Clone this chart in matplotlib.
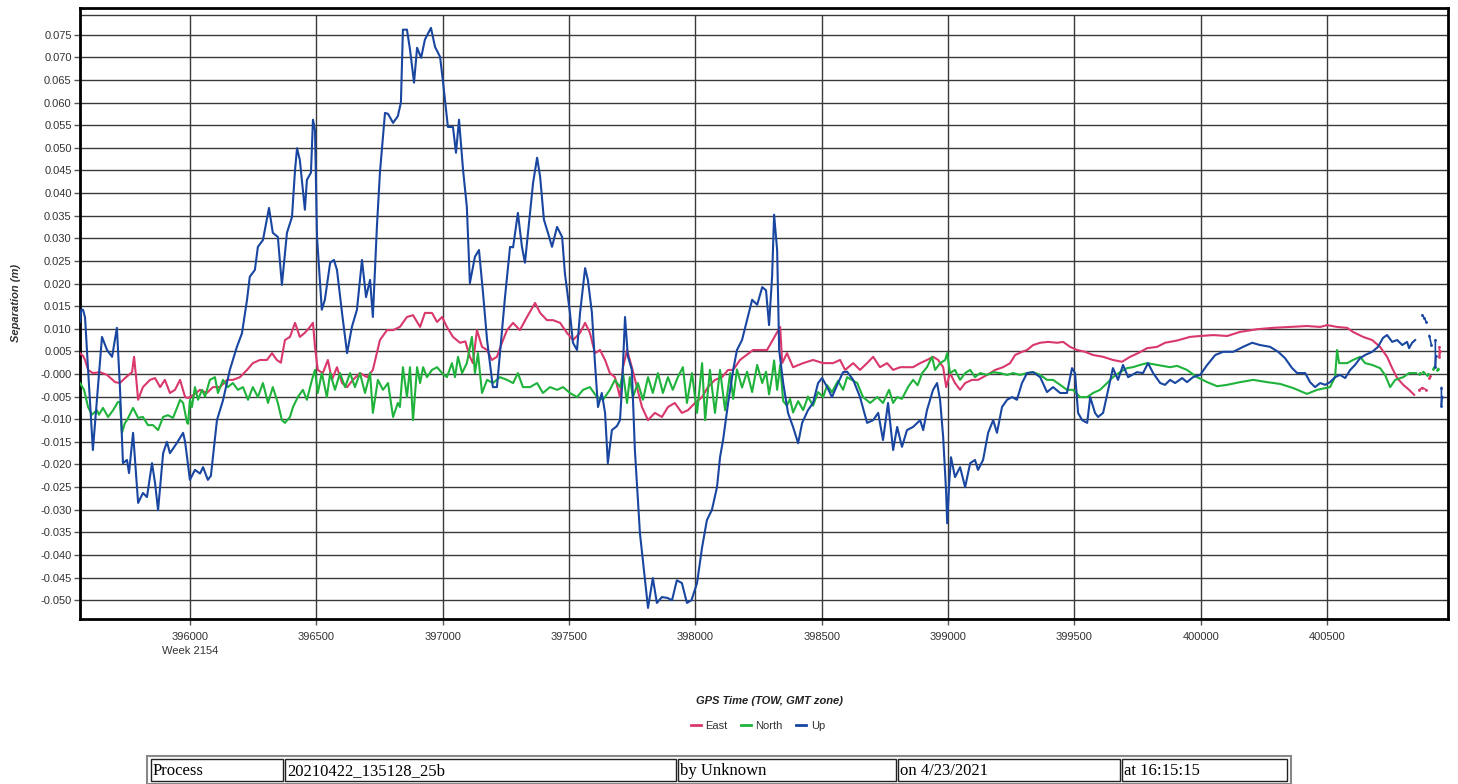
import numpy as np
import matplotlib
matplotlib.use("Agg")
import matplotlib.pyplot as plt
from matplotlib.lines import Line2D
from matplotlib.patches import Rectangle

plt.rcParams['font.family'] = ['Liberation Sans', 'DejaVu Sans']

# ---------------- data (GPS TOW seconds, separation in metres) ----------------
up_t = [395565, 395570, 395577, 395585, 395597, 395616, 395636, 395652, 395672, 395692,
        395711, 395723, 395735, 395751, 395759, 395775, 395795, 395814, 395830, 395850,
        395862, 395874, 395894, 395909, 395921, 395949, 395973, 395981, 396000, 396020,
        396040, 396052, 396071, 396083, 396107, 396131, 396158, 396186, 396206, 396226,
        396237, 396257, 396269, 396289, 396313, 396328, 396348, 396364, 396384, 396404,
        396416, 396424, 396435, 396455, 396463, 396479, 396487, 396495, 396503, 396522,
        396534, 396555, 396570, 396582, 396602, 396622, 396641, 396661, 396681, 396697,
        396713, 396724, 396740, 396752, 396772, 396784, 396804, 396823, 396835, 396843,
        396859, 396871, 396887, 396899, 396915, 396930, 396954, 396970, 396990, 397002,
        397021, 397041, 397053, 397065, 397081, 397096, 397108, 397128, 397144, 397160,
        397176, 397199, 397215, 397227, 397247, 397267, 397279, 397298, 397314, 397326,
        397346, 397358, 397374, 397386, 397401, 397417, 397433, 397453, 397473, 397484,
        397504, 397516, 397532, 397544, 397564, 397575, 397591, 397603, 397615, 397630,
        397643, 397654, 397670, 397690, 397702, 397710, 397722, 397733, 397749, 397761,
        397781, 397801, 397813, 397832, 397848, 397868, 397890, 397908, 397927, 397947,
        397967, 397985, 398007, 398027, 398046, 398066, 398086, 398098, 398110, 398130,
        398150, 398165, 398185, 398205, 398225, 398245, 398265, 398280, 398292, 398304,
        398312, 398324, 398332, 398348, 398367, 398387, 398407, 398423, 398446, 398466,
        398486, 398502, 398522, 398541, 398565, 398585, 398601, 398625, 398652, 398680,
        398704, 398724, 398743, 398763, 398783, 398799, 398818, 398838, 398862, 398890,
        398902, 398917, 398941, 398957, 398969, 398981, 398993, 398997, 399005, 399012,
        399028, 399048, 399068, 399088, 399107, 399119, 399139, 399159, 399179, 399194,
        399214, 399234, 399254, 399273, 399293, 399313, 399337, 399365, 399392, 399416,
        399444, 399471, 399491, 399503, 399515, 399531, 399551, 399563, 399582, 399594,
        399614, 399634, 399653, 399673, 399693, 399713, 399748, 399772, 399792, 399812,
        399840, 399859, 399879, 399899, 399927, 399946, 399970, 399998, 400026, 400058,
        400089, 400129, 400168, 400204, 400235, 400275, 400307, 400334, 400362, 400382,
        400414, 400433, 400453, 400473, 400493, 400512, 400532, 400552, 400572, 400592,
        400611, 400631, 400651, 400679, 400702, 400722, 400738, 400758, 400778, 400798,
        400817, 400825, 400837, 400849]
up_v = [0.0115, 0.0142, 0.0142, 0.0125, 0.0009, -0.0168, -0.0029, 0.0082, 0.0053, 0.0038,
        0.0102, -0.0029, -0.0197, -0.0190, -0.0219, -0.0130, -0.0285, -0.0263, -0.0272, -0.0197,
        -0.0241, -0.0301, -0.0175, -0.0150, -0.0175, -0.0152, -0.0130, -0.0150, -0.0234, -0.0212,
        -0.0220, -0.0206, -0.0234, -0.0225, -0.0102, -0.0058, 0.0009, 0.0060, 0.0090, 0.0164,
        0.0215, 0.0230, 0.0281, 0.0296, 0.0367, 0.0312, 0.0303, 0.0197, 0.0312, 0.0347,
        0.0451, 0.0499, 0.0473, 0.0363, 0.0429, 0.0445, 0.0562, 0.0539, 0.0303, 0.0142,
        0.0164, 0.0246, 0.0252, 0.0230, 0.0135, 0.0046, 0.0104, 0.0142, 0.0252, 0.0170,
        0.0208, 0.0126, 0.0325, 0.0445, 0.0577, 0.0575, 0.0555, 0.0570, 0.0600, 0.0761,
        0.0761, 0.0717, 0.0644, 0.0721, 0.0699, 0.0739, 0.0765, 0.0723, 0.0701, 0.0644,
        0.0546, 0.0546, 0.0489, 0.0562, 0.0451, 0.0369, 0.0201, 0.0259, 0.0274, 0.0179,
        0.0075, -0.0029, -0.0029, 0.0046, 0.0170, 0.0281, 0.0280, 0.0356, 0.0281, 0.0246,
        0.0356, 0.0422, 0.0478, 0.0436, 0.0341, 0.0312, 0.0281, 0.0325, 0.0303, 0.0223,
        0.0135, 0.0069, 0.0053, 0.0135, 0.0234, 0.0208, 0.0135, 0.0024, -0.0073, -0.0042,
        -0.0086, -0.0197, -0.0124, -0.0115, -0.0102, -0.0030, 0.0126, 0.0040, 0.0009, -0.0168,
        -0.0352, -0.0456, -0.0517, -0.0451, -0.0506, -0.0493, -0.0495, -0.0500, -0.0456, -0.0462,
        -0.0506, -0.0500, -0.0462, -0.0383, -0.0323, -0.0300, -0.0250, -0.0184, -0.0146, -0.0064,
        0.0009, 0.0053, 0.0075, 0.0120, 0.0164, 0.0153, 0.0192, 0.0185, 0.0108, 0.0215,
        0.0352, 0.0274, 0.0053, -0.0020, -0.0086, -0.0117, -0.0153, -0.0108, -0.0080, -0.0064,
        -0.0020, -0.0009, -0.0029, -0.0051, -0.0020, 0.0004, 0.0005, -0.0013, -0.0051, -0.0108,
        -0.0102, -0.0086, -0.0146, -0.0064, -0.0168, -0.0117, -0.0161, -0.0124, -0.0117, -0.0102,
        -0.0124, -0.0080, -0.0035, -0.0020, -0.0058, -0.0139, -0.0263, -0.0330, -0.0241, -0.0184,
        -0.0228, -0.0206, -0.0250, -0.0197, -0.0190, -0.0212, -0.0190, -0.0130, -0.0102, -0.0130,
        -0.0073, -0.0057, -0.0051, -0.0057, -0.0020, 0.0002, 0.0004, -0.0007, -0.0040, -0.0029,
        -0.0042, -0.0042, 0.0013, 0.0002, -0.0086, -0.0102, -0.0108, -0.0051, -0.0086, -0.0095,
        -0.0086, -0.0035, 0.0013, -0.0013, 0.0020, -0.0007, 0.0004, 0.0002, 0.0024, 0.0002,
        -0.0020, -0.0024, -0.0013, -0.0020, -0.0009, -0.0018, -0.0007, -0.0002, 0.0020, 0.0042,
        0.0049, 0.0049, 0.0060, 0.0069, 0.0064, 0.0060, 0.0049, 0.0035, 0.0013, 0.0002,
        0.0002, -0.0018, -0.0029, -0.0020, -0.0024, -0.0018, -0.0007, -0.0002, -0.0009, 0.0009,
        0.0020, 0.0035, 0.0042, 0.0049, 0.0060, 0.0080, 0.0086, 0.0071, 0.0075, 0.0064,
        0.0071, 0.0057, 0.0069, 0.0075]
up_tail_t = [400877, 400885, 400893, np.nan, 400905, 400913, np.nan, 400929, 400929, 400931, np.nan, 400953, 400953, 400955]
up_tail_v = [0.0130, 0.0124, 0.0115, np.nan, 0.0085, 0.0065, np.nan, 0.0075, 0.0015, 0.0040, np.nan, -0.0030, -0.0070, -0.0050]

east_t = [395565, 395577, 395585, 395597, 395616, 395644, 395672, 395704, 395723, 395743,
          395771, 395779, 395787, 395795, 395814, 395842, 395862, 395882, 395901, 395921,
          395941, 395961, 395981, 395993, 396012, 396040, 396067, 396091, 396119, 396147,
          396170, 396198, 396226, 396249, 396277, 396305, 396325, 396344, 396360, 396376,
          396396, 396416, 396435, 396455, 396475, 396487, 396495, 396506, 396526, 396546,
          396562, 396582, 396602, 396622, 396645, 396673, 396701, 396724, 396752, 396780,
          396804, 396831, 396859, 396883, 396911, 396930, 396958, 396978, 396998, 397017,
          397041, 397069, 397090, 397108, 397120, 397136, 397156, 397176, 397195, 397215,
          397235, 397255, 397279, 397306, 397334, 397366, 397386, 397413, 397437, 397465,
          397492, 397516, 397544, 397564, 397583, 397603, 397623, 397643, 397662, 397682,
          397702, 397714, 397730, 397749, 397769, 397789, 397813, 397840, 397868, 397892,
          397919, 397947, 397971, 397999, 398027, 398050, 398078, 398106, 398130, 398150,
          398177, 398229, 398284, 398336, 398344, 398363, 398387, 398427, 398466, 398506,
          398545, 398573, 398593, 398625, 398652, 398680, 398704, 398731, 398759, 398783,
          398811, 398838, 398862, 398890, 398917, 398941, 398961, 398981, 398993, 399008,
          399028, 399048, 399068, 399095, 399119, 399155, 399187, 399218, 399246, 399266,
          399293, 399313, 399337, 399365, 399396, 399432, 399456, 399483, 399511, 399543,
          399574, 399614, 399653, 399689, 399721, 399752, 399788, 399828, 399859, 399879,
          399907, 399958, 399998, 400050, 400105, 400156, 400224, 400287, 400354, 400421,
          400473, 400501, 400540, 400580, 400603, 400643, 400679, 400710, 400738, 400758,
          400778, 400802, 400825, 400845]
east_v = [0.0046, 0.0040, 0.0031, 0.0009, 0.0002, 0.0004, -0.0002, -0.0018, -0.0020, -0.0009,
          0.0004, 0.0038, -0.0007, -0.0057, -0.0029, -0.0013, -0.0009, -0.0029, -0.0013, -0.0042,
          -0.0035, -0.0013, -0.0051, -0.0053, -0.0047, -0.0035, -0.0042, -0.0029, -0.0029, -0.0013,
          -0.0013, -0.0007, 0.0009, 0.0024, 0.0031, 0.0031, 0.0046, 0.0031, 0.0025, 0.0075,
          0.0082, 0.0113, 0.0082, 0.0091, 0.0104, 0.0113, 0.0060, 0.0009, 0.0002, 0.0031,
          -0.0013, 0.0015, -0.0020, -0.0029, -0.0013, 0.0002, -0.0007, 0.0009, 0.0075, 0.0097,
          0.0097, 0.0104, 0.0126, 0.0130, 0.0104, 0.0135, 0.0135, 0.0115, 0.0126, 0.0104,
          0.0082, 0.0069, 0.0072, 0.0038, 0.0024, 0.0097, 0.0060, 0.0053, 0.0031, 0.0038,
          0.0069, 0.0097, 0.0113, 0.0097, 0.0126, 0.0157, 0.0135, 0.0119, 0.0119, 0.0113,
          0.0091, 0.0075, 0.0091, 0.0113, 0.0091, 0.0046, 0.0053, 0.0031, 0.0002, -0.0007,
          -0.0051, 0.0015, 0.0053, 0.0015, -0.0029, -0.0073, -0.0102, -0.0086, -0.0095, -0.0073,
          -0.0064, -0.0086, -0.0080, -0.0064, -0.0051, -0.0029, -0.0013, -0.0007, 0.0009, 0.0009,
          0.0031, 0.0053, 0.0053, 0.0104, 0.0024, 0.0046, 0.0015, 0.0024, 0.0031, 0.0024,
          0.0024, 0.0031, 0.0009, 0.0024, 0.0009, 0.0024, 0.0038, 0.0015, 0.0024, 0.0009,
          0.0015, 0.0015, 0.0015, 0.0024, 0.0031, 0.0038, 0.0031, 0.0015, -0.0029, 0.0002,
          -0.0020, -0.0035, -0.0020, -0.0013, -0.0013, -0.0002, 0.0009, 0.0015, 0.0024, 0.0042,
          0.0049, 0.0053, 0.0064, 0.0069, 0.0071, 0.0069, 0.0071, 0.0060, 0.0053, 0.0049,
          0.0042, 0.0038, 0.0031, 0.0027, 0.0038, 0.0046, 0.0057, 0.0060, 0.0069, 0.0071,
          0.0074, 0.0082, 0.0084, 0.0086, 0.0084, 0.0093, 0.0099, 0.0102, 0.0104, 0.0106,
          0.0104, 0.0108, 0.0104, 0.0102, 0.0093, 0.0082, 0.0075, 0.0060, 0.0038, 0.0013,
          -0.0009, -0.0024, -0.0035, -0.0046]
east_tail_t = [400865, 400877, 400893, np.nan, 400905, 400909, np.nan, 400945, 400945, 400947]
east_tail_v = [-0.0035, -0.0030, -0.0035, np.nan, -0.0009, -0.0005, np.nan, 0.0060, 0.0038, 0.0050]

north_t = [395565, 395581, 395597, 395612, 395632, 395640, 395656, 395676, 395696, 395715,
           395723, 395731, 395743, 395751, 395775, 395795, 395814, 395834, 395854, 395874,
           395894, 395913, 395933, 395953, 395961, 395973, 395989, 395993, 396000, 396008,
           396020, 396032, 396048, 396060, 396079, 396099, 396111, 396131, 396150, 396170,
           396190, 396210, 396230, 396249, 396269, 396289, 396309, 396328, 396348, 396364,
           396376, 396396, 396408, 396427, 396447, 396463, 396483, 396495, 396506, 396522,
           396542, 396555, 396574, 396594, 396614, 396634, 396653, 396673, 396693, 396713,
           396724, 396744, 396764, 396784, 396804, 396823, 396831, 396843, 396859, 396871,
           396883, 396899, 396911, 396923, 396938, 396958, 396978, 396998, 397017, 397037,
           397049, 397061, 397077, 397096, 397116, 397128, 397140, 397156, 397176, 397199,
           397227, 397255, 397279, 397298, 397318, 397346, 397374, 397397, 397425, 397453,
           397477, 397504, 397532, 397556, 397583, 397611, 397635, 397662, 397682, 397702,
           397714, 397730, 397741, 397753, 397773, 397793, 397813, 397832, 397852, 397872,
           397892, 397911, 397931, 397951, 397967, 397987, 398007, 398027, 398039, 398058,
           398078, 398098, 398118, 398138, 398150, 398165, 398185, 398205, 398225, 398245,
           398265, 398280, 398292, 398304, 398312, 398324, 398336, 398348, 398363, 398375,
           398387, 398407, 398427, 398446, 398466, 398486, 398506, 398522, 398541, 398565,
           398585, 398601, 398625, 398641, 398664, 398692, 398720, 398743, 398767, 398783,
           398799, 398818, 398842, 398862, 398880, 398898, 398917, 398937, 398949, 398969,
           398989, 398997, 399008, 399028, 399048, 399068, 399088, 399107, 399127, 399155,
           399179, 399206, 399234, 399258, 399285, 399313, 399337, 399365, 399392, 399416,
           399444, 399471, 399495, 399523, 399551, 399574, 399602, 399630, 399653, 399681,
           399709, 399732, 399760, 399788, 399828, 399879, 399907, 399946, 399986, 400026,
           400065, 400105, 400156, 400208, 400263, 400315, 400366, 400421, 400461, 400512,
           400532, 400540, 400548, 400580, 400603, 400631, 400651, 400679, 400710, 400730,
           400750, 400770, 400802, 400825, 400853]
north_v = [-0.0020, -0.0035, -0.0073, -0.0090, -0.0080, -0.0090, -0.0075, -0.0095, -0.0080, -0.0062,
           -0.0062, -0.0130, -0.0108, -0.0102, -0.0075, -0.0097, -0.0095, -0.0113, -0.0113, -0.0124,
           -0.0095, -0.0091, -0.0097, -0.0069, -0.0057, -0.0064, -0.0108, -0.0110, -0.0057, -0.0073,
           -0.0029, -0.0057, -0.0035, -0.0050, -0.0013, -0.0007, -0.0042, -0.0013, -0.0029, -0.0020,
           -0.0035, -0.0029, -0.0057, -0.0029, -0.0051, -0.0020, -0.0064, -0.0029, -0.0064, -0.0102,
           -0.0108, -0.0095, -0.0073, -0.0051, -0.0035, -0.0057, -0.0013, 0.0009, -0.0042, 0.0002,
           -0.0051, 0.0002, -0.0035, 0.0002, -0.0029, 0.0002, -0.0029, 0.0002, -0.0042, 0.0002,
           -0.0086, -0.0013, -0.0035, -0.0020, -0.0095, -0.0064, -0.0073, 0.0015, -0.0051, 0.0015,
           -0.0102, 0.0015, -0.0020, 0.0015, -0.0007, 0.0009, 0.0015, 0.0002, -0.0007, 0.0024,
           -0.0007, 0.0038, 0.0002, 0.0024, 0.0082, 0.0002, 0.0046, -0.0042, -0.0013, -0.0020,
           -0.0007, -0.0013, -0.0020, 0.0002, -0.0029, -0.0029, -0.0020, -0.0042, -0.0029, -0.0035,
           -0.0029, -0.0042, -0.0051, -0.0035, -0.0029, -0.0051, -0.0057, -0.0035, -0.0013, -0.0029,
           0.0002, -0.0064, -0.0007, -0.0051, -0.0020, -0.0057, -0.0007, -0.0042, 0.0002, -0.0042,
           -0.0007, -0.0035, -0.0007, 0.0015, -0.0064, 0.0002, -0.0086, 0.0024, -0.0102, 0.0009,
           -0.0086, 0.0009, -0.0080, 0.0002, -0.0055, 0.0010, -0.0030, 0.0005, -0.0040, 0.0020,
           -0.0020, 0.0005, -0.0045, -0.0005, 0.0030, -0.0035, 0.0020, -0.0060, -0.0070, -0.0055,
           -0.0085, -0.0060, -0.0080, -0.0050, -0.0070, -0.0040, -0.0051, -0.0025, -0.0040, -0.0015,
           -0.0035, -0.0007, -0.0015, -0.0020, -0.0051, -0.0064, -0.0051, -0.0064, -0.0035, -0.0064,
           -0.0051, -0.0055, -0.0029, -0.0013, -0.0025, 0.0002, 0.0015, 0.0038, 0.0009, 0.0024,
           0.0031, 0.0046, 0.0002, 0.0009, -0.0013, 0.0002, 0.0009, -0.0007, 0.0002, -0.0002,
           0.0004, 0.0002, -0.0002, 0.0002, -0.0002, 0.0002, 0.0004, -0.0002, -0.0013, -0.0013,
           -0.0024, -0.0035, -0.0035, -0.0051, -0.0051, -0.0042, -0.0035, -0.0020, -0.0007, 0.0004,
           0.0013, 0.0015, 0.0020, 0.0024, 0.0020, 0.0015, 0.0018, 0.0009, -0.0007, -0.0018,
           -0.0027, -0.0024, -0.0018, -0.0013, -0.0018, -0.0022, -0.0031, -0.0044, -0.0035, -0.0029,
           -0.0007, 0.0053, 0.0024, 0.0024, 0.0031, 0.0038, 0.0024, 0.0020, 0.0013, -0.0002,
           -0.0029, -0.0013, -0.0007, 0.0002, 0.0002]
north_tail_t = [400865, 400869, np.nan, 400881, 400885, np.nan, 400897, 400901, np.nan, 400921, 400925, np.nan, 400937, 400941]
north_tail_v = [0.0000, 0.0002, np.nan, 0.0005, 0.0003, np.nan, -0.0002, 0.0000, np.nan, 0.0012, 0.0015, np.nan, 0.0008, 0.0012]

y_ticks = [-0.050, -0.045, -0.040, -0.035, -0.030, -0.025, -0.020, -0.015, -0.010, -0.005,
           0.000, 0.005, 0.010, 0.015, 0.020, 0.025, 0.030, 0.035, 0.040, 0.045,
           0.050, 0.055, 0.060, 0.065, 0.070, 0.075]
y_tick_labels = ["-0.050", "-0.045", "-0.040", "-0.035", "-0.030", "-0.025", "-0.020", "-0.015",
                 "-0.010", "-0.005", "-0.000", "0.005", "0.010", "0.015", "0.020", "0.025",
                 "0.030", "0.035", "0.040", "0.045", "0.050", "0.055", "0.060", "0.065",
                 "0.070", "0.075"]
x_ticks = [396000, 396500, 397000, 397500, 398000, 398500, 399000, 399500, 400000, 400500]
x_tick_labels = ["396000\nWeek 2154", "396500", "397000", "397500", "398000", "398500",
                 "399000", "399500", "400000", "400500"]

table_cells = ["Process", "20210422_135128_25b", "by Unknown", "on 4/23/2021", "at 16:15:15"]

# ---------------- figure ----------------
W, H = 1458, 784
fig = plt.figure(figsize=(W / 100, H / 100), dpi=100)
fig.patch.set_facecolor('white')

ax = fig.add_axes([80 / W, 1 - 619 / H, (1448 - 80) / W, (619 - 8) / H])
x_lo, x_hi = 395565, 400979
y_lo, y_hi = -0.05415, 0.08089
y_band = 0.07934
ax.set_xlim(x_lo, x_hi)
ax.set_ylim(y_lo, y_hi)

# grid
for yt in y_ticks:
    ax.axhline(yt, color='#3a3a3a', lw=1.0, zorder=1)
ax.axhline(y_band, color='#3a3a3a', lw=1.0, zorder=1)
ax.vlines(x_ticks, y_lo, y_band, color='#3a3a3a', lw=1.0, zorder=1)

c_east = '#D8386A'
c_north = '#1FB33C'
c_up = '#1846A0'
lw = 1.5
ax.plot(east_t, east_v, color=c_east, lw=lw, zorder=3)
ax.plot(north_t, north_v, color=c_north, lw=lw, zorder=4)
ax.plot(up_t, up_v, color=c_up, lw=lw, zorder=5)
ax.plot(east_tail_t, east_tail_v, color=c_east, lw=1.2, marker='.', ms=2, zorder=3)
ax.plot(north_tail_t, north_tail_v, color=c_north, lw=1.2, marker='.', ms=2, zorder=4)
ax.plot(up_tail_t, up_tail_v, color=c_up, lw=1.2, marker='.', ms=2, zorder=5)

for s in ax.spines.values():
    s.set_color('black')
    s.set_linewidth(2.0)

ax.set_yticks(y_ticks)
ax.set_yticklabels(y_tick_labels)
ax.set_xticks(x_ticks)
ax.set_xticklabels(x_tick_labels, linespacing=1.6)
ax.tick_params(axis='both', direction='out', length=4, width=1, color='#555555',
               labelsize=8, labelcolor='#333333', pad=2)
ax.tick_params(axis='x', pad=5)

fig.text(16 / W, 1 - 303 / H, 'Separation (m)', rotation=90, fontsize=8,
         fontweight='bold', fontstyle='italic', color='#333333', ha='center', va='center')
fig.text(769 / W, 1 - 701 / H, 'GPS Time (TOW, GMT zone)', fontsize=8,
         fontweight='bold', fontstyle='italic', color='#222222', ha='center', va='center')

handles = [Line2D([], [], color=c_east, lw=2), Line2D([], [], color=c_north, lw=2),
           Line2D([], [], color=c_up, lw=2)]
fig.legend(handles, ['East', 'North', 'Up'], loc='center', bbox_to_anchor=(758 / W, 1 - 726 / H),
           ncol=3, frameon=False, fontsize=8, handlelength=0.9, handletextpad=0.4,
           columnspacing=1.2, labelcolor='#333333')

# ---------------- bottom info table ----------------
tab = fig.add_axes([0, 0, 1, 1])
tab.set_xlim(0, W)
tab.set_ylim(H, 0)
tab.axis('off')
tab.add_patch(Rectangle((147, 756), 1144, 28, fill=False, ec='#888888', lw=1.5))
edges = [150, 284, 677, 897, 1121, 1288]
for i, txt in enumerate(table_cells):
    x0, x1 = edges[i], edges[i + 1]
    tab.add_patch(Rectangle((x0 + 1, 759), x1 - x0 - 2, 22, fill=False, ec='#222222', lw=1.0))
    tab.text(x0 + 3, 771, txt, fontsize=12, family=['Liberation Serif', 'DejaVu Serif'],
             ha='left', va='center', color='black')

fig.savefig('out.png', dpi=100, facecolor='white')
